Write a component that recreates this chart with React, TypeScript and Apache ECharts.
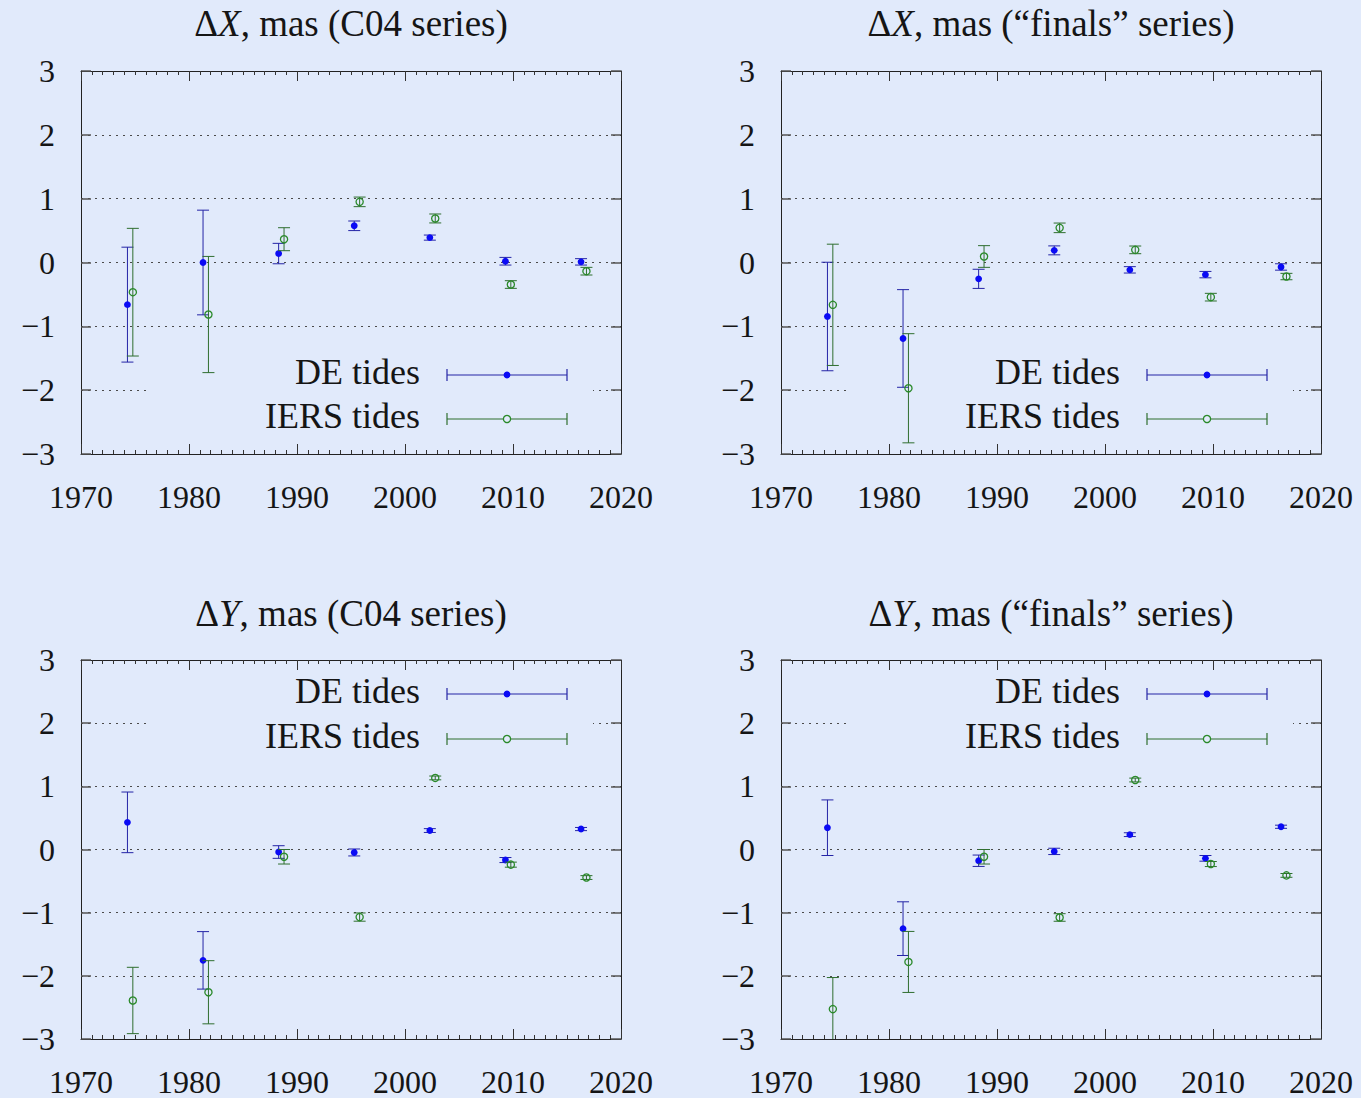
import React, { useEffect, useRef } from "react";
import * as echarts from "echarts";

// ---------- data ----------
const YEARS_DE = [1974.3, 1981.3, 1988.3, 1995.3, 2002.3, 2009.3, 2016.3];
const YEARS_IERS = [1974.8, 1981.8, 1988.8, 1995.8, 2002.8, 2009.8, 2016.8];

const DX_C04_DE = [-0.66, 0.0, 0.14, 0.575, 0.39, 0.02, 0.01];
const DX_C04_DE_ERR = [0.9, 0.82, 0.16, 0.075, 0.04, 0.06, 0.05];
const DX_C04_IERS = [-0.465, -0.815, 0.365, 0.95, 0.69, -0.345, -0.136];
const DX_C04_IERS_ERR = [1.0, 0.91, 0.18, 0.075, 0.07, 0.06, 0.06];

const DX_FIN_DE = [-0.846, -1.19, -0.256, 0.19, -0.115, -0.19, -0.07];
const DX_FIN_DE_ERR = [0.85, 0.765, 0.15, 0.07, 0.05, 0.05, 0.05];
const DX_FIN_IERS = [-0.663, -1.97, 0.094, 0.543, 0.198, -0.543, -0.22];
const DX_FIN_IERS_ERR = [0.95, 0.855, 0.17, 0.075, 0.06, 0.06, 0.05];

const DY_C04_DE = [0.43, -1.755, -0.04, -0.047, 0.3, -0.167, 0.324];
const DY_C04_DE_ERR = [0.48, 0.455, 0.1, 0.055, 0.03, 0.04, 0.025];
const DY_C04_IERS = [-2.39, -2.26, -0.115, -1.07, 1.133, -0.24, -0.444];
const DY_C04_IERS_ERR = [0.525, 0.5, 0.115, 0.065, 0.03, 0.04, 0.03];

const DY_FIN_DE = [0.345, -1.253, -0.178, -0.03, 0.235, -0.14, 0.36];
const DY_FIN_DE_ERR = [0.44, 0.425, 0.09, 0.05, 0.03, 0.045, 0.025];
const DY_FIN_IERS = [-2.527, -1.78, -0.115, -1.076, 1.1, -0.23, -0.41];
const DY_FIN_IERS_ERR = [0.5, 0.483, 0.115, 0.06, 0.03, 0.04, 0.03];

const TITLE_VARS = ["X", "X", "Y", "Y"];
const TITLE_SUFFIX = [", mas (C04 series)", ", mas (\u201cfinals\u201d series)", ", mas (C04 series)", ", mas (\u201cfinals\u201d series)"];
const SERIES_NAMES = ["DE tides", "IERS tides"];
const X_MIN = 1970, X_MAX = 2020, X_STEP = 10;
const Y_MIN = -3, Y_MAX = 3, Y_STEP = 1;

// ---------- styling ----------
const BG = "#e1eafb";
const FONT = "Liberation Serif";
const DE_BAR = "#2424a6";
const DE_MARK = "#0a0af5";
const IERS_BAR = "#2f6e2f";
const IERS_MARK = "#2a8a2a";
const TEXT = "#151515";

const PANELS = [
  { left: 81, top: 71, w: 540, h: 383, legendTop: false, de: [DX_C04_DE, DX_C04_DE_ERR], iers: [DX_C04_IERS, DX_C04_IERS_ERR] },
  { left: 781, top: 71, w: 540, h: 383, legendTop: false, de: [DX_FIN_DE, DX_FIN_DE_ERR], iers: [DX_FIN_IERS, DX_FIN_IERS_ERR] },
  { left: 81, top: 660, w: 540, h: 383, legendTop: true, de: [DY_C04_DE, DY_C04_DE_ERR], iers: [DY_C04_IERS, DY_C04_IERS_ERR] },
  { left: 781, top: 660, w: 540, h: 383, legendTop: true, de: [DY_FIN_DE, DY_FIN_DE_ERR], iers: [DY_FIN_IERS, DY_FIN_IERS_ERR] },
];

function makeRenderItem(filled: boolean, barColor: string, markColor: string) {
  return (params: any, api: any) => {
    const x = api.value(0);
    const y = api.value(1);
    const e = api.value(2);
    const p = api.coord([x, y]);
    const t = api.coord([x, y + e]);
    const b = api.coord([x, y - e]);
    const ls = { stroke: barColor, lineWidth: 1 };
    return {
      type: "group",
      children: [
        { type: "line", shape: { x1: p[0], y1: t[1], x2: p[0], y2: b[1] }, style: ls },
        { type: "line", shape: { x1: p[0] - 6, y1: t[1], x2: p[0] + 6, y2: t[1] }, style: ls },
        { type: "line", shape: { x1: p[0] - 6, y1: b[1], x2: p[0] + 6, y2: b[1] }, style: ls },
        {
          type: "circle",
          shape: { cx: p[0], cy: p[1], r: filled ? 3.4 : 3.6 },
          style: filled ? { fill: markColor } : { fill: "none", stroke: markColor, lineWidth: 1.3 },
        },
      ],
    };
  };
}

function legendGraphics(pl: any) {
  const gl = pl.left, gt = pl.top;
  const y1 = pl.legendTop ? gt + 34 : gt + 304;
  const y2 = pl.legendTop ? gt + 79 : gt + 348;
  const rectTop = pl.legendTop ? gt + 13 : gt + 274;
  const els: any[] = [
    { type: "rect", z: 1, shape: { x: gl + 69, y: rectTop, width: 443, height: 88 }, style: { fill: BG } },
  ];
  const rows = [
    { y: y1, name: SERIES_NAMES[0], bar: DE_BAR, mark: DE_MARK, filled: true },
    { y: y2, name: SERIES_NAMES[1], bar: IERS_BAR, mark: IERS_MARK, filled: false },
  ];
  rows.forEach((r) => {
    const ls = { stroke: r.bar, lineWidth: 1.2 };
    els.push(
      { type: "text", z: 3, x: gl + 339, y: r.y - 3, style: { text: r.name, font: `36px "${FONT}"`, fill: TEXT, align: "right", verticalAlign: "middle" } },
      { type: "line", z: 3, shape: { x1: gl + 366, y1: r.y, x2: gl + 486, y2: r.y }, style: ls },
      { type: "line", z: 3, shape: { x1: gl + 366, y1: r.y - 6, x2: gl + 366, y2: r.y + 6 }, style: ls },
      { type: "line", z: 3, shape: { x1: gl + 486, y1: r.y - 6, x2: gl + 486, y2: r.y + 6 }, style: ls },
      {
        type: "circle", z: 3, shape: { cx: gl + 426, cy: r.y, r: r.filled ? 3.4 : 3.6 },
        style: r.filled ? { fill: r.mark } : { fill: BG, stroke: r.mark, lineWidth: 1.3 },
      }
    );
  });
  return els;
}

export default function App() {
  const ref = useRef<HTMLDivElement>(null);
  useEffect(() => {
    if (!ref.current) return;
    const chart = echarts.init(ref.current, null, { renderer: "svg" });

    const grid: any[] = [];
    const xAxis: any[] = [];
    const yAxis: any[] = [];
    const series: any[] = [];
    const graphic: any[] = [];

    const tickStyle = { color: "#333", width: 1 };
    const minus = (v: number) => (v < 0 ? "\u2212" + Math.abs(v) : String(v));
    const plain = (v: number) => String(v);

    PANELS.forEach((pl, i) => {
      grid.push({ left: pl.left, top: pl.top, width: pl.w, height: pl.h, show: false, containLabel: false });
      const xBase = {
        gridIndex: i, type: "value", min: X_MIN, max: X_MAX, interval: X_STEP,
        axisLine: { show: true, onZero: false, lineStyle: { color: "#222", width: 1 } },
        axisTick: { show: true, inside: true, length: 10, lineStyle: tickStyle },
        minorTick: { show: true, splitNumber: 10, length: 4, lineStyle: tickStyle },
        splitLine: { show: false },
      };
      xAxis.push({
        ...xBase, position: "bottom",
        axisLabel: { show: true, margin: 27, fontFamily: FONT, fontSize: 32, color: TEXT, formatter: plain, showMinLabel: true, showMaxLabel: true },
      });
      xAxis.push({ ...xBase, position: "top", axisLabel: { show: false } });
      const yBase = {
        gridIndex: i, type: "value", min: Y_MIN, max: Y_MAX, interval: Y_STEP,
        axisLine: { show: true, onZero: false, lineStyle: { color: "#222", width: 1 } },
        axisTick: { show: true, inside: true, length: 10, lineStyle: { color: "#555", width: 1.5 } },
      };
      yAxis.push({
        ...yBase, position: "left",
        axisLabel: { show: true, margin: 26, fontFamily: FONT, fontSize: 32, color: TEXT, formatter: minus, showMinLabel: true, showMaxLabel: true },
        splitLine: { show: true, lineStyle: { color: "#4a4a4a", width: 1, type: [2, 5] } },
      });
      yAxis.push({ ...yBase, position: "right", axisLabel: { show: false }, splitLine: { show: false } });

      series.push({
        name: SERIES_NAMES[0], type: "custom", xAxisIndex: 2 * i, yAxisIndex: 2 * i, clip: true, z: 4,
        renderItem: makeRenderItem(true, DE_BAR, DE_MARK),
        encode: { x: 0, y: 1 },
        data: YEARS_DE.map((x, k) => [x, pl.de[0][k], pl.de[1][k]]),
      });
      series.push({
        name: SERIES_NAMES[1], type: "custom", xAxisIndex: 2 * i, yAxisIndex: 2 * i, clip: true, z: 5,
        renderItem: makeRenderItem(false, IERS_BAR, IERS_MARK),
        encode: { x: 0, y: 1 },
        data: YEARS_IERS.map((x, k) => [x, pl.iers[0][k], pl.iers[1][k]]),
      });

      graphic.push({
        type: "text", z: 3,
        x: pl.left + pl.w / 2, y: pl.top - (i < 2 ? 48 : 47),
        style: {
          text: `{n|\u0394}{i|${TITLE_VARS[i]}}{n|${TITLE_SUFFIX[i]}}`,
          align: "center", verticalAlign: "middle",
          rich: {
            n: { fontFamily: FONT, fontSize: 37, fill: TEXT },
            i: { fontFamily: FONT, fontSize: 37, fontStyle: "italic", fill: TEXT },
          },
        },
      });
      graphic.push(...legendGraphics(pl));
    });

    chart.setOption({
      animation: false,
      backgroundColor: BG,
      grid, xAxis, yAxis, series, graphic,
    });
    return () => chart.dispose();
  }, []);

  return (
    <div
      ref={ref}
      style={{ position: "absolute", left: 0, top: 0, width: 1361, height: 1098, background: BG }}
    />
  );
}
